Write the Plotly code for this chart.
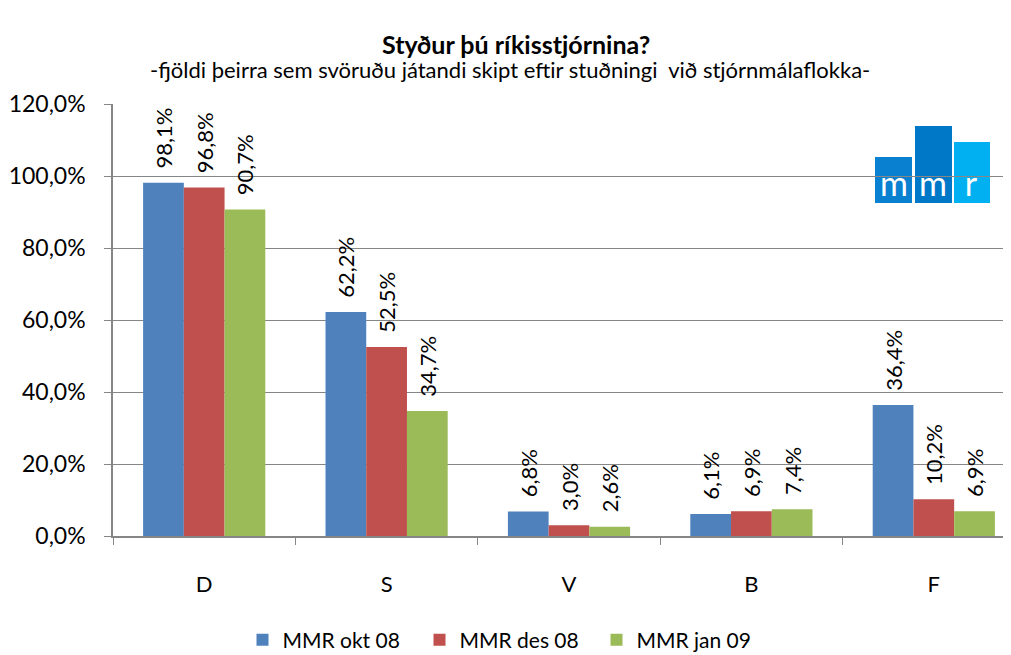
import plotly.graph_objects as go

categories = ["D", "S", "V", "B", "F"]
okt_08 = [98.1, 62.2, 6.8, 6.1, 36.4]
des_08 = [96.8, 52.5, 3.0, 6.9, 10.2]
jan_09 = [90.7, 34.7, 2.6, 7.4, 6.9]

series = [
    ("MMR okt 08", okt_08, "#4F81BD"),
    ("MMR des 08", des_08, "#C0504D"),
    ("MMR jan 09", jan_09, "#9BBB59"),
]

FONT = "Lato, 'Open Sans', sans-serif"
W, H = 1011, 655
OFF = 8  # page body margin
L, R, T, B = 113 - OFF, 0, 104 - OFF, H - (536 - OFF)
CAT_W = 182.4

fig = go.Figure()
for name, vals, color in series:
    fig.add_bar(
        x=categories, y=vals, name=name,
        marker=dict(color=color, line=dict(width=0)),
        texttemplate="\u00a0\u00a0%{y:.1f}%", textposition="outside", textangle=-90,
        textfont=dict(size=22, color="#000000", family=FONT),
        constraintext="none", cliponaxis=False,
    )


def px(x):
    # screen x -> paper fraction
    return (x - OFF - L) / (W - L - R)


def py(y):
    return (H - B - (y - OFF)) / (H - T - B)


# mmr logo: three blocks plus white lettering on an overlay axis spanning the plot area
logo = [(875, 912, 157, "#0a80d0"), (915, 952, 126, "#0078c8"), (954, 990, 142, "#00b0f0")]
shapes = []
for x0, x1, top, c in logo:
    shapes.append(dict(type="rect", xref="paper", yref="paper", x0=px(x0), x1=px(x1),
                       y0=py(203), y1=py(top), fillcolor=c, line=dict(width=0), layer="between"))

fig.add_scatter(
    x=[px(894), px(933), px(971)], y=[py(187)] * 3, text=["m", "m", "r"],
    mode="text", textfont=dict(size=34, family=FONT, color="white"),
    xaxis="x2", yaxis="y2", showlegend=False, hoverinfo="skip", cliponaxis=False,
)

annotations = [
    dict(text="<b>Styður þú ríkisstjórnina?</b>", xref="paper", yref="paper",
         x=px(516), y=py(27), showarrow=False, font=dict(size=25, family=FONT, color="#000")),
    dict(text="-fjöldi þeirra sem svöruðu játandi skipt eftir stuðningi  við stjórnmálaflokka-",
         xref="paper", yref="paper", x=px(510), y=py(54), showarrow=False,
         font=dict(size=22, family=FONT, color="#000")),
]

fig.update_layout(
    width=W, height=H,
    margin=dict(l=L, r=R, t=T, b=B),
    plot_bgcolor="white", paper_bgcolor="white",
    separators=", ",
    barmode="group", bargap=0.33, bargroupgap=0,
    font=dict(family=FONT, size=22, color="#000"),
    shapes=shapes, annotations=annotations,
    legend=dict(orientation="h", x=(508 - OFF) / W, xanchor="center", xref="container",
                y=(H - (640 - OFF)) / H, yanchor="middle", yref="container",
                font=dict(size=21, family=FONT), itemwidth=30, entrywidth=132),
    showlegend=True,
    xaxis2=dict(overlaying="x", range=[0, 1], visible=False, fixedrange=True),
    yaxis2=dict(overlaying="y", range=[0, 1], visible=False, fixedrange=True),
)
fig.update_xaxes(
    selector=dict(overlaying=None),
    range=[-0.5, -0.5 + (W - L) / CAT_W], automargin=False,
    showline=True, linecolor="#868686", linewidth=1.5,
    ticks="outside", tickson="boundaries", ticklen=7, tickcolor="#868686",
    tickfont=dict(size=22), ticklabelstandoff=28, showgrid=False,
)
fig.update_yaxes(
    selector=dict(overlaying=None),
    range=[0, 120], dtick=20, tickformat=".1f", ticksuffix="%", automargin=False,
    showline=True, linecolor="#868686", linewidth=1.5,
    ticks="outside", ticklen=7, tickcolor="#868686", ticklabelstandoff=14,
    showgrid=True, gridcolor="#868686", gridwidth=1.2,
    tickfont=dict(size=23), zeroline=False,
)

fig.write_html("out.html")
